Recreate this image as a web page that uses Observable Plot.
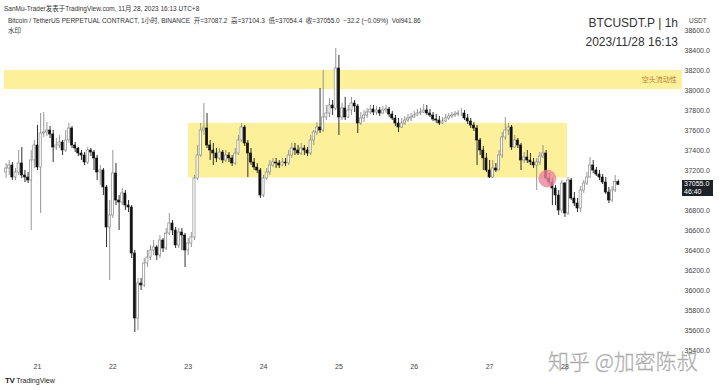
<!DOCTYPE html>
<html>
<head>
<meta charset="utf-8">
<script src="https://cdn.jsdelivr.net/npm/d3@7"></script>
<script src="https://cdn.jsdelivr.net/npm/@observablehq/plot@0.6"></script>
<style>
  html, body { margin: 0; padding: 0; background: #fff; }
  #wrap { position: relative; width: 720px; height: 390px; overflow: hidden;
          font-family: "Liberation Sans", Arial, "Noto Sans CJK SC", sans-serif; color: #222; }
  .ov { position: absolute; white-space: nowrap; }
</style>
</head>
<body>
<div id="wrap"></div>
<script>
// ---- data (1h candles, BTCUSDT.P, Nov 20 – Nov 28 2023) ----
const firstOpen = 37180;
const close = [
37220,37250,37130,37180,37270,37150,37130,37100,37300,37450,
37230,37570,37580,37600,37560,37430,37450,37480,37400,37500,
37620,37450,37420,37370,37350,37280,37400,37380,37320,37180,
37200,37030,36630,36750,37170,36900,36880,36970,36850,36830,
36370,35720,36070,36050,36270,36330,36400,36430,36350,36500,
36420,36570,36670,36600,36450,36580,36550,36400,36470,36530,
37120,37350,37600,37620,37450,37400,37370,37320,37380,37300,
37350,37320,37270,37370,37500,37630,37470,37370,37280,37230,
37200,36950,37120,37180,37250,37280,37270,37250,37280,37270,
37350,37420,37400,37370,37420,37400,37370,37500,37580,37630,
37600,37730,37770,37850,37820,38220,37730,37820,37730,37800,
37870,37840,37670,37720,37750,37780,37810,37780,37800,37770,
37800,37810,37760,37720,37670,37630,37670,37700,37720,37730,
37750,37770,37780,37800,37770,37750,37710,37700,37670,37690,
37720,37740,37750,37760,37770,37770,37720,37690,37650,37620,
37500,37400,37320,37200,37130,37220,37200,37350,37530,37600,
37630,37430,37500,37450,37300,37330,37300,37280,37250,37280,
37340,37370,37120,37080,37020,36950,36800,37070,36770,37100,
36920,36870,36820,37000,37070,37130,37250,37200,37160,37130,
37080,36980,36900,37000,37087.2,37055
];
const high = [
37270,37300,37280,37220,37400,37430,37200,37180,37400,37500,
37650,37770,37780,37680,37640,37600,37520,37550,37500,37600,
37670,37640,37480,37430,37400,37380,37430,37420,37400,37350,
37250,37220,37050,36900,37400,37270,36950,37020,37000,36900,
36850,36400,36120,36120,36320,36400,36450,36500,36450,36550,
36520,36620,36770,36700,36630,36620,36620,36570,36520,36580,
37150,37450,37670,37870,37770,37500,37470,37420,37420,37400,
37400,37380,37350,37420,37550,37670,37650,37500,37420,37320,
37270,37220,37150,37220,37300,37320,37320,37300,37320,37320,
37400,37470,37470,37450,37470,37450,37430,37550,37600,37680,
38020,38200,37850,37920,37900,38420,38350,37870,37930,37850,
37930,37900,37860,37780,37800,37820,37850,37850,37840,37830,
37840,37850,37830,37790,37750,37720,37720,37740,37760,37770,
37790,37810,37820,37860,37850,37810,37780,37760,37740,37730,
37760,37770,37780,37790,37800,37820,37800,37760,37720,37680,
37650,37520,37440,37370,37300,37300,37270,37400,37580,37730,
37670,37650,37550,37520,37470,37380,37400,37370,37320,37320,
37380,37450,37400,37170,37120,37050,37000,37100,37080,37130,
37120,36980,36920,37040,37100,37180,37330,37300,37230,37200,
37160,37130,37030,37040,37150,37104.3
];
const low = [
37120,37150,37100,37100,37150,37120,37080,37070,36600,37220,
37200,36770,37530,37540,37520,37280,37400,37420,37350,37380,
37470,37420,37380,37340,37300,37250,37260,37340,37200,37100,
37050,36950,36430,36100,36720,36850,36600,36850,36800,36780,
36320,35580,35600,36000,36030,36230,36300,36350,36300,36320,
36380,36400,36550,36550,36420,36420,36400,36230,36350,36430,
36500,37100,37330,37550,37420,37300,37250,37280,37300,37270,
37280,37280,37240,37250,37350,37480,37440,37130,37250,37200,
37170,36920,36930,37100,37150,37230,37220,37220,37240,37240,
37250,37320,37350,37350,37350,37350,37340,37350,37450,37550,
37570,37580,37700,37730,37750,37800,37550,37700,37700,37720,
37750,37780,37570,37650,37680,37720,37760,37750,37750,37740,
37760,37770,37730,37700,37640,37580,37620,37650,37680,37690,
37720,37740,37750,37770,37750,37730,37690,37670,37650,37660,
37680,37700,37720,37730,37740,37740,37700,37660,37620,37590,
37250,37350,37200,37180,37120,37120,37180,37200,37320,37500,
37550,37400,37420,37420,37200,37270,37270,37250,37220,37000,
37250,37320,37100,37050,36850,36850,36750,36770,36730,36750,
36900,36840,36780,36780,36970,37050,37120,37170,37140,37100,
37060,36960,36870,36880,36980,37054.4
];
// x-axis: day boundaries (candle index) and labels
const dayIdx = [10, 34, 58, 82, 106, 130, 154, 178];
const dayLabels = ["21", "22", "23", "24", "25", "26", "27", "28"];
// price-axis labels (37000.0 sits under the last-price tag in the reference)
const priceTicks = [35400,35600,35800,36000,36200,36400,36600,36800,37200,37400,37600,37800,38000,38200,38400,38600];
// annotation zones (candle index range, price range)
const zoneShort = {i1: -0.5, i2: 215.4, lo: 38010, hi: 38200, label: "空头流动性"};
const zoneRange = {i1: 58.1, i2: 178.8, lo: 37125, hi: 37670};
const marker = {i: 172.4, price: 37120};
const lastPrice = 37055.0;

const candles = close.map((c, i) => ({
  i, open: i === 0 ? firstOpen : close[i - 1], close: c, high: high[i], low: low[i]
}));
const isUp = d => d.close >= d.open;

const chart = Plot.plot({
  width: 720, height: 390,
  marginLeft: 0, marginRight: 40, marginTop: 0, marginBottom: 30,
  x: {domain: [-1.78, 214.8], axis: null},
  y: {domain: [35300, 38900], axis: null},
  style: {background: "#fff", fontFamily: "'Liberation Sans', Arial, sans-serif", overflow: "visible"},
  marks: [
    Plot.rect([zoneShort], {x1: "i1", x2: "i2", y1: "lo", y2: "hi", fill: "#fcf19a"}),
    Plot.rect([zoneRange], {x1: "i1", x2: "i2", y1: "lo", y2: "hi", fill: "#fcf19a"}),
    Plot.text([zoneShort], {x: 213.6, y: d => (d.lo + d.hi) / 2, text: "label", textAnchor: "end",
      fill: "#c27b35", fontSize: 7, fontFamily: "'Noto Sans CJK SC', sans-serif"}),
    Plot.ruleX(candles, {x: "i", y1: "low", y2: "high", stroke: d => isUp(d) ? "#8a8a8a" : "#1a1a1a", strokeWidth: 0.9}),
    Plot.rect(candles, {x1: d => d.i - 0.34, x2: d => d.i + 0.34, y1: "open", y2: "close",
      fill: d => isUp(d) ? "#ffffff" : "#111111", stroke: d => isUp(d) ? "#7a7a7a" : "#111111", strokeWidth: 0.6, insetTop: 0, insetBottom: 0}),
    Plot.dot([marker], {x: "i", y: "price", r: 9, fill: "#ec829b", fillOpacity: 0.8, stroke: "none"}),
    Plot.axisX({ticks: dayIdx, tickFormat: (d) => dayLabels[dayIdx.indexOf(d)], tickSize: 0, tickPadding: 4, fontSize: 7, color: "#444"}),
    Plot.axisY({anchor: "right", ticks: priceTicks, tickFormat: d => d.toFixed(1), tickSize: 0, tickPadding: 4, fontSize: 7, color: "#444"})
  ]
});

const wrap = document.getElementById("wrap");
wrap.appendChild(chart);

function ov(html, css) {
  const d = document.createElement("div");
  d.className = "ov";
  d.innerHTML = html;
  Object.assign(d.style, css);
  wrap.appendChild(d);
  return d;
}
// header texts
ov("SanMu-Trader发表于TradingView.com, 11月 28, 2023 16:13 UTC+8", {left: "4px", top: "3px", fontSize: "6.5px", color: "#333"});
ov("Bitcoin / TetherUS PERPETUAL CONTRACT, 1小时, BINANCE&nbsp;&nbsp;开=37087.2&nbsp;&nbsp;高=37104.3&nbsp;&nbsp;低=37054.4&nbsp;&nbsp;收=37055.0&nbsp;&nbsp;−32.2 (−0.09%)&nbsp;&nbsp;Vol941.86",
   {left: "8px", top: "15px", fontSize: "6.5px", color: "#333"});
ov("水印", {left: "8px", top: "25px", fontSize: "6.5px", color: "#333"});
ov("BTCUSDT.P | 1h", {right: "42px", top: "16px", fontSize: "12px", color: "#333"});
ov("2023/11/28 16:13", {right: "42px", top: "35px", fontSize: "12px", color: "#333"});
ov("USDT", {left: "689px", top: "17px", fontSize: "6.5px", color: "#444"});
// last price label
const yPx = chart.scale("y").apply(lastPrice);
ov(lastPrice.toFixed(1) + "<br>46:40", {left: "682px", top: (yPx - 4.5) + "px", width: "31px", height: "16px",
  background: "#1e2127", color: "#fff", fontSize: "7px", lineHeight: "8px", paddingLeft: "2px", boxSizing: "border-box"});
// watermark
ov("知乎 @加密陈叔", {left: "548px", top: "345px", fontSize: "21px", color: "rgba(150,150,150,0.55)",
  fontFamily: "'Noto Sans CJK SC', sans-serif", fontWeight: "300", webkitTextStroke: "0.4px rgba(110,110,110,0.6)"});
// TradingView logo
ov("<b style='font-size:8px;letter-spacing:-0.5px'>TV</b>&nbsp;TradingView", {left: "5px", top: "376px", fontSize: "7px", color: "#222"});
</script>
</body>
</html>
